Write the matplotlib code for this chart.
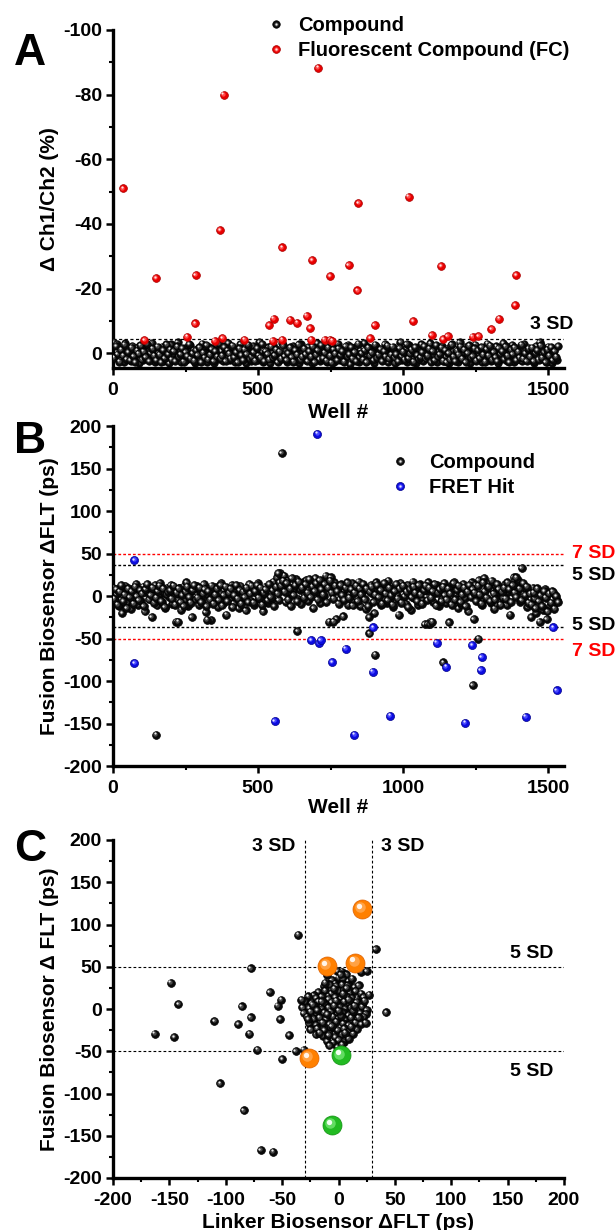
import numpy as np
import matplotlib
matplotlib.use("Agg")
import matplotlib.pyplot as plt
from matplotlib.transforms import ScaledTranslation
from matplotlib.ticker import MultipleLocator
from matplotlib.lines import Line2D
from matplotlib.legend_handler import HandlerTuple

plt.rcParams['font.family'] = ['Liberation Sans', 'DejaVu Sans']
plt.rcParams['font.weight'] = 'bold'
plt.rcParams['axes.labelweight'] = 'bold'
plt.rcParams['axes.unicode_minus'] = False

# ---------------- Panel A data ----------------
# compound band (tenths of %), wells 1, 7, 13, ...
a_band_tenths = [
    -35, 12, -28, 5, 20, -12, 28, -30, 8, -5, 25, -22, 15, 3, -18, 30,
    -8, 22, -25, 10, -3, 18, -32, 6, 27, -15, 0, 14, -20, 24, -6, 9,
    31, -27, 4, -10, 19, -33, 11, 26, -2, -17, 21, 7, -24, 16, -9, 29,
    -14, 2, 23, -29, 13, -4, 28, -19, 8, -11, 32, -26, 1, 17, -7, 25,
    -21, 10, -31, 22, 5, -16, 27, -1, 14, -28, 19, -8, 30, -13, 3, 24,
    -23, 15, -5, 20, -34, 9, 26, -10, 12, -18, 31, 0, -25, 18, -3, 22,
    6, -30, 16, -12, 28, -7, 11, -22, 25, 2, -15, 29, -27, 13, -2, 21,
    -19, 8, 30, -9, 17, -32, 4, 23, -14, 10, -24, 27, -6, 15, -20, 26,
    1, -29, 20, -11, 24, -3, 12, -26, 33, -16, 7, 18, -21, 28, -8, 14,
    -31, 5, 25, -13, 19, -4, 30, -23, 9, 16, -10, 22, -28, 3, 27, -17,
    11, -6, 29, -20, 13, -35, 21, 2, -12, 26, -25, 8, 17, -1, 31, -15,
    7, -27, 23, -9, 15, 0, -30, 19, 4, -18, 28, -5, 12, -22, 24, 10,
    -14, 30, -24, 6, 18, -11, 26, -33, 14, 2, -19, 22, -7, 29, -16, 9,
    -26, 16, 3, -12, 27, -2, 20, -29, 11, 25, -8, 13, -21, 32, -4, 17,
    -31, 7, 24, -15, 10, -25, 28, 1, -10, 19, -6, 23, -28, 15, 5, -17,
    21, -3, 30, -22, 12, -34, 18, 8, -13, 26, -20, 4, 29, -9, 14, 22,
]
# compound band (tenths of %), wells 4, 10, 16, ...
a_band2_tenths = [
    14, -22, 3, 26, -11, 7, -26, 18, -3, 22, -17, 9, 27, -8, 1, -24,
    19, -5, 12, -29, 24, 0, -14, 8, 21, -20, 5, 28, -10, 15, -27, 2,
    -12, 20, -7, 25, -21, 11, 3, -16, 26, -4, 9, -28, 17, -1, 23, -9,
    6, -18, 28, -2, 13, -25, 19, 4, -13, 24, -6, 10, -30, 16, 7, -19,
    25, -8, 1, 17, -23, 12, -4, 27, -15, 6, 21, -11, 2, -26, 18, 11,
    -3, 23, -16, 8, 14, -28, 25, -7, 3, 19, -21, 13, 6, -12, 28, -5,
    17, -24, 9, 22, -1, -18, 12, 26, -9, 4, -27, 20, 10, -14, 2, 24,
    -6, 11, -20, 27, 5, -10, 18, -25, 15, -2, 23, -17, 8, 29, -12, 1,
    22, -15, 6, -7, 26, -22, 10, 3, -19, 17, -4, 25, -29, 12, 0, 19,
    -9, 27, -18, 7, -2, 21, -26, 14, 5, -13, 24, -7, 11, -23, 16, 4,
    -20, 13, 2, 25, -16, 9, -5, 20, -28, 15, 1, -11, 26, -19, 6, 18,
    12, -3, -22, 16, 8, -14, 27, -6, 21, -25, 10, 3, -17, 23, -9, 28,
    -1, 19, -27, 11, 24, -8, 5, -20, 17, -12, 28, 0, -24, 14, 9, -15,
    23, -10, 15, -19, 4, 26, -13, 7, -23, 20, -4, 12, 25, -16, 2, -7,
    18, -21, 8, 27, -12, 3, -18, 22, -5, 13, -26, 16, -1, 24, -14, 10,
    -17, 25, 0, -9, 20, -24, 14, -3, 28, -11, 7, -19, 21, -6, 11, -22,
]
a_fc_wells = [34, 382, 707, 1019, 846, 108, 148, 255, 285, 283, 350, 369, 377, 453,
              538, 554, 550, 583, 583, 610, 635, 668, 679, 687, 683, 730, 748, 755,
              749, 812, 843, 886, 902, 1035, 1099, 1131, 1138, 1154, 1240, 1260,
              1305, 1331, 1386, 1389]
a_fc_vals = [-51, -80, -88.3, -48.4, -46.4, -4.1, -23.3, -5.1, -24.2, -9.2, -3.9, -38.1,
             -4.7, -4.2, -8.7, -10.7, -3.9, -32.7, -4.2, -10.4, -9.4, -11.6, -7.8, -28.8,
             -4.2, -4.2, -4.2, -3.9, -23.8, -27.3, -19.4, -4.7, -8.7, -9.9, -5.6, -26.9,
             -4.3, -5.3, -5.1, -5.3, -7.4, -10.7, -14.9, -24.2]
a_sd3 = -4.3

# ---------------- Panel B data ----------------
# compound band (ps), wells 1, 7, 13, ...
b_band = [
    10, -5, 2, -12, 6, -20, 0, 12, -8, 4, -15, 8, -2, 14, -10, 3,
    -6, 11, -18, 5, 9, -3, -25, 7, 13, -11, 1, 15, -7, 4, -14, 10,
    -1, 13, -9, 6, -30, 2, 9, -16, 11, -4, 16, -12, 3, -25, 8, -2,
    12, -10, 5, -6, 14, -19, 1, 9, -28, 7, -3, 11, -13, 4, 15, -8,
    2, -22, 10, -5, 13, -9, 6, 0, -14, 12, -2, 8, -17, 5, 14, -6,
    9, -11, 3, 15, -4, 7, -18, 11, 1, -8, 13, -3, 17, 6, 22, -5,
    27, 10, 24, -7, 18, 4, -12, 14, 8, 20, -3, 12, -9, 16, 2, 19,
    -6, 15, 9, -14, 21, 5, 11, -8, 17, 0, 24, 13, -30, 22, 7, 16,
    -27, 10, -4, 14, -24, 6, 12, -10, 3, 15, -7, 9, -2, 17, -12, 5,
    11, -15, 8, -25, 13, 2, -20, 16, -6, 10, -11, 4, 14, -8, 18, -3,
    7, -13, 12, 1, -22, 15, -5, 9, -9, 13, 3, -16, 17, -2, 8, -10,
    14, -4, 10, -33, 6, 16, -30, 11, -7, 3, 13, -12, 9, -3, 15, -8,
    5, -31, 12, -6, 17, 2, -14, 9, -9, 14, -2, 11, -18, 6, 16, -27,
    13, -5, 19, 1, -11, 21, -3, 10, 15, -8, 7, -15, 12, 4, -6, 9,
    -2, 14, -10, 5, -22, 11, 22, 18, 3, 15, -7, 12, -4, 8, -13, 6,
    -25, 10, -3, -20, 7, -30, 2, -16, 8, -27, 4, -12, 6, -9, 1, -5,
]
# compound band (ps), wells 4, 10, 16, ...
b_band2 = [
    -3, 8, -10, 5, 13, -6, 2, -14, 9, -1, 6, -9, 11, 0, -5, 7,
    3, -12, 8, 14, -4, 1, 10, -8, -2, 6, 12, -6, 9, -13, 2, 5,
    7, -3, 12, -10, 4, 9, -7, 1, -12, 5, 11, -1, -8, 7, 13, -4,
    -2, 10, -7, 3, 8, -12, 6, -4, 12, -9, 2, 9, -5, 13, -11, 1,
    11, -6, 4, 9, -13, 1, 13, -3, 7, -9, 5, -1, 10, -7, 3, 12,
    -8, 6, 13, -2, 10, -10, 4, 8, -5, 14, -1, 7, -12, 11, 3, 16,
    12, 18, 5, 15, -4, 9, 21, 1, 13, -6, 17, 7, 10, -2, 14, 4,
    20, -1, 11, 6, 15, -4, 19, 8, 2, 14, -7, 10, 18, 4, -3, 12,
    6, -9, 13, 1, -5, 10, 16, -2, 8, -11, 4, 12, -6, 9, 2, 14,
    -4, 9, -12, 5, 11, -7, 2, 13, -1, 7, -9, 15, 3, -5, 10, 1,
    -10, 6, 14, -3, 9, -8, 12, 0, 5, -13, 8, -1, 11, 4, -6, 13,
    2, -9, 7, 12, -5, 10, -2, 6, 14, -11, 4, 8, -6, 11, 1, -4,
    9, 3, -10, 15, -4, 7, 12, -7, 2, 10, -12, 5, 13, -1, 8, 4,
    -6, 12, 2, -9, 16, 6, -2, 11, -6, 18, 3, -4, 14, 8, -10, 5,
    10, -3, 16, 8, -7, 13, 4, -1, 19, 9, -5, 15, 1, 11, -8, 3,
    -10, 4, -14, 9, -6, 1, -12, 6, -2, -18, 3, -8, 5, -15, 0, -7,
]
b_cmp_wells = [581, 1409, 1389, 569, 148, 636, 884, 903, 1138, 1240, 1260, 1085, 1093,
               1100, 760, 225, 325]
b_cmp_vals = [168, 33, 22, 27, -163, -41, -44, -69, -78, -105, -50, -33, -33, -30, -30,
              -30, -28]
b_hit_wells = [74, 705, 74, 557, 683, 710, 716, 755, 802, 832, 897, 895, 956, 1116, 1149,
               1214, 1238, 1271, 1268, 1423, 1518, 1530]
b_hit_vals = [42, 191, -79, -147, -52, -55, -52, -78, -62, -163, -37, -89, -141, -55, -83,
              -149, -58, -72, -87, -142, -37, -111]
b_sd5 = 36.5
b_sd7 = 50

# ---------------- Panel C data ----------------
c_clu_x = [-1, 3, 7, 20, 25, -6, 0, 4, 9, -3, 12, -13, -8, -2, 3, 8, 14, 18,
           -18, -12, -6, 0, 5, 10, 15, 20, -22, -27, -20, -15, -9, -3, 2, 7, 12, 17, 22, 27,
           -30, -24, -18, -12, -6, 0, 5, 10, 16, 21, -33, -32, -26, -21, -15, -9, -4, 1, 6,
           11, 16, 21, 25, -31, -25, -19, -13, -7, -1, 4, 9, 14, 19, 24, -28, -22, -17, -11,
           -5, 0, 6, 11, 17, 22, -26, -20, -14, -8, -2, 4, 9, 15, 20, 24, -25, -19, -13, -7,
           -1, 5, 10, 16, -20, -14, -8, -3, 3, 8, 13, -10, -5, 0, 5, 9, -8, -1, 3,
           -10, 2, -4, 7, -15, -2, 9, 13, -10, 2, -6, -17, 6, -23, 18, -12, 11, -27, 23, -4,
           4, -9, 0, 14, -19]
c_clu_y = [45, 44, 41, 44, 45, 34, 37, 36, 33, 30, 36, 27, 29, 27, 29, 28, 26, 28,
           20, 22, 19, 21, 23, 19, 21, 18, 16, 15, 13, 15, 12, 14, 12, 15, 13, 11, 14, 17,
           9, 7, 9, 6, 8, 7, 9, 6, 8, 5, 11, 2, 1, 3, 0, 2, -1, 3, 0,
           2, -1, 3, -1, -5, -3, -6, -4, -3, -6, -4, -7, -3, -5, -6, -9, -12, -10, -12,
           -9, -11, -13, -10, -12, -9, -17, -19, -16, -18, -15, -17, -19, -16, -18, -16, -24, -23, -25, -22,
           -25, -23, -26, -24, -30, -32, -29, -33, -30, -32, -29, -38, -40, -37, -39, -35, -43, -45, -42,
           40, 41, 24, 25, 9, 10, 11, -2, -6, -8, -20, -28, -28, 5, -10, 31, -21, -12, 10, 4,
           18, -31, -2, 4, -1]
c_out_x = [-149, -142, -78, -36, 33, 42, -110, -86, -78, -89, -61, -51, -54, -52, -163,
           -146, -79, -44, -72, -50, -38, -31, -105, -84, -69, -58]
c_out_y = [31, 6, 48, 88, 71, -4, -14, 3, -10, -18, 20, 11, 4, -12, -29, -33, -29, -31,
           -48, -59, -50, -48, -88, -120, -167, -169]
c_orange_x = [21, -10, 15, -26]
c_orange_y = [118, 51, 55, -58]
c_green_x = [2, -6]
c_green_y = [-55, -137]
c_sd3 = 30
c_sd5 = 50

# ---------------- figure ----------------
W, H = 616, 1230
fig = plt.figure(figsize=(W / 100, H / 100), dpi=100)


def box(left, top, right, bottom):
    return [left / W, 1 - bottom / H, (right - left) / W, (bottom - top) / H]


axA = fig.add_axes(box(113, 30, 564, 368))
axB = fig.add_axes(box(113, 426, 564, 766))
axC = fig.add_axes(box(113, 840, 564, 1178))

# body, edge, mid shade, specular
BLACK = ('#0a0a0a', '#000000', '#4a4a4a', '#eeeeee')
RED = ('#e80000', '#a80000', '#ff4a4a', '#ffe4e4')
BLUE = ('#0c0ce0', '#00008a', '#4a4aff', '#e4e4ff')
ORANGE = ('#ff8000', '#dd6000', '#ffa245', '#fff4ea')
GREEN = ('#22bb22', '#128f12', '#62dd62', '#f2fff2')


def spheres(ax, xs, ys, col, ms, z):
    body, edge, mid, spec = col
    off1 = ScaledTranslation(-0.10 * ms / 72, 0.10 * ms / 72, fig.dpi_scale_trans)
    off2 = ScaledTranslation(-0.17 * ms / 72, 0.17 * ms / 72, fig.dpi_scale_trans)
    for x, y in zip(xs, ys):
        ax.plot([x], [y], ls='none', marker='o', ms=ms, mfc=body, mec=edge, mew=0.5,
                zorder=z)
        ax.plot([x], [y], ls='none', marker='o', ms=ms * 0.55, mfc=mid, mec='none',
                zorder=z, transform=ax.transData + off1)
        ax.plot([x], [y], ls='none', marker='o', ms=ms * 0.28, mfc=spec, mec='none',
                zorder=z, transform=ax.transData + off2)


def style(ax):
    for s in ['top', 'right']:
        ax.spines[s].set_visible(False)
    for s in ['left', 'bottom']:
        ax.spines[s].set_linewidth(2.4)
    ax.tick_params(which='major', direction='out', length=5, width=1.8, labelsize=14)
    ax.tick_params(which='minor', direction='out', length=3, width=1.5)
    ax.tick_params(axis='x', which='major', pad=5)
    ax.tick_params(axis='y', which='major', pad=3)


def legend_handle(col, ms):
    body, edge, mid, spec = col
    return (Line2D([], [], ls='none', marker='o', ms=ms, mfc=body, mec=edge, mew=0.5),
            Line2D([], [], ls='none', marker='o', ms=ms * 0.55, mfc=mid, mec='none'),
            Line2D([], [], ls='none', marker='o', ms=ms * 0.28, mfc=spec, mec='none'))


dash = (0, (2.5, 2))

# ---- Panel A ----
spheres(axA, np.arange(len(a_band_tenths)) * 6 + 1, np.array(a_band_tenths) / 10.0,
        BLACK, 5.4, 3)
spheres(axA, np.arange(len(a_band2_tenths)) * 6 + 4, np.array(a_band2_tenths) / 10.0,
        BLACK, 5.4, 3)
spheres(axA, a_fc_wells, a_fc_vals, RED, 5.6, 4)
axA.axhline(a_sd3, color='black', ls=dash, lw=0.9, zorder=2)
axA.set_xlim(0, 1555)
axA.set_ylim(4.6, -100)
axA.xaxis.set_major_locator(MultipleLocator(500))
axA.xaxis.set_minor_locator(MultipleLocator(250))
axA.yaxis.set_major_locator(MultipleLocator(20))
axA.yaxis.set_minor_locator(MultipleLocator(10))
style(axA)
axA.set_xlabel('Well #', fontsize=15)
axA.xaxis.set_label_coords(0.5, -0.104)
axA.set_ylabel('Δ Ch1/Ch2 (%)', fontsize=15)
axA.yaxis.set_label_coords(-0.12, 0.5)
axA.text(1438, -8.75, '3 SD', fontsize=14, fontweight='bold', ha='left', va='center')
axA.legend([legend_handle(BLACK, 5.4), legend_handle(RED, 5.6)],
           ['Compound', 'Fluorescent Compound (FC)'],
           handler_map={tuple: HandlerTuple(ndivide=1, pad=0)},
           loc='center left', bbox_to_anchor=(266 / W, 1 - 38 / H),
           bbox_transform=fig.transFigure, frameon=False, borderpad=0, borderaxespad=0,
           handlelength=1.0, handletextpad=0.6, labelspacing=0.3,
           prop={'size': 14.5, 'weight': 'bold'})

# ---- Panel B ----
spheres(axB, np.arange(len(b_band)) * 6 + 1, b_band, BLACK, 5.6, 3)
spheres(axB, np.arange(len(b_band2)) * 6 + 4, b_band2, BLACK, 5.6, 3)
spheres(axB, b_cmp_wells, b_cmp_vals, BLACK, 5.6, 3)
spheres(axB, b_hit_wells, b_hit_vals, BLUE, 5.8, 4)
for v in (b_sd7, -b_sd7):
    axB.axhline(v, color='red', ls=(0, (2, 1.5)), lw=1.0, zorder=2)
for v in (b_sd5, -b_sd5):
    axB.axhline(v, color='black', ls=(0, (2, 1.5)), lw=1.0, zorder=2)
axB.set_xlim(0, 1555)
axB.set_ylim(-200, 200)
axB.xaxis.set_major_locator(MultipleLocator(500))
axB.xaxis.set_minor_locator(MultipleLocator(250))
axB.yaxis.set_major_locator(MultipleLocator(50))
axB.yaxis.set_minor_locator(MultipleLocator(25))
style(axB)
axB.set_xlabel('Well #', fontsize=15)
axB.xaxis.set_label_coords(0.5, -0.094)
axB.set_ylabel('Fusion Biosensor ΔFLT (ps)', fontsize=15)
axB.yaxis.set_label_coords(-0.12, 0.5)
for yv, lab, col in [(50, '7 SD', 'red'), (23.6, '5 SD', 'black'),
                     (-35, '5 SD', 'black'), (-65, '7 SD', 'red')]:
    axB.text(1583, yv, lab, color=col, fontsize=14, fontweight='bold', ha='left',
             va='center', clip_on=False)
axB.legend([legend_handle(BLACK, 5.6), legend_handle(BLUE, 5.8)],
           ['Compound', 'FRET Hit'],
           handler_map={tuple: HandlerTuple(ndivide=1, pad=0)},
           loc='center left', bbox_to_anchor=(390 / W, 1 - 475 / H),
           bbox_transform=fig.transFigure, frameon=False, borderpad=0, borderaxespad=0,
           handlelength=1.0, handletextpad=0.95, labelspacing=0.3,
           prop={'size': 14.5, 'weight': 'bold'})

# ---- Panel C ----
spheres(axC, c_out_x, c_out_y, BLACK, 5.6, 3)
spheres(axC, c_clu_x, c_clu_y, BLACK, 5.6, 3)
spheres(axC, c_orange_x, c_orange_y, ORANGE, 13.7, 5)
spheres(axC, c_green_x, c_green_y, GREEN, 13.7, 5)
for v in (-c_sd3, c_sd3):
    axC.axvline(v, color='black', ls=dash, lw=0.8, zorder=2)
for v in (-c_sd5, c_sd5):
    axC.axhline(v, color='black', ls=dash, lw=0.8, zorder=2)
axC.set_xlim(-200, 200)
axC.set_ylim(-200, 200)
for a in (axC.xaxis, axC.yaxis):
    a.set_major_locator(MultipleLocator(50))
    a.set_minor_locator(MultipleLocator(25))
style(axC)
axC.set_xlabel('Linker Biosensor ΔFLT (ps)', fontsize=15)
axC.xaxis.set_label_coords(0.5, -0.104)
axC.set_ylabel('Fusion Biosensor Δ FLT (ps)', fontsize=15)
axC.yaxis.set_label_coords(-0.12, 0.5)
axC.text(-38, 192, '3 SD', fontsize=14, fontweight='bold', ha='right', va='center')
axC.text(38, 192, '3 SD', fontsize=14, fontweight='bold', ha='left', va='center')
axC.text(152, 66, '5 SD', fontsize=14, fontweight='bold', ha='left', va='center')
axC.text(152, -74.5, '5 SD', fontsize=14, fontweight='bold', ha='left', va='center')

# panel letters
for lab, base in [('A', 65), ('B', 453), ('C', 861)]:
    fig.text(14 / W, 1 - base / H, lab, fontsize=32, fontweight='bold', ha='left',
             va='baseline')

fig.savefig('out.png', dpi=100)
